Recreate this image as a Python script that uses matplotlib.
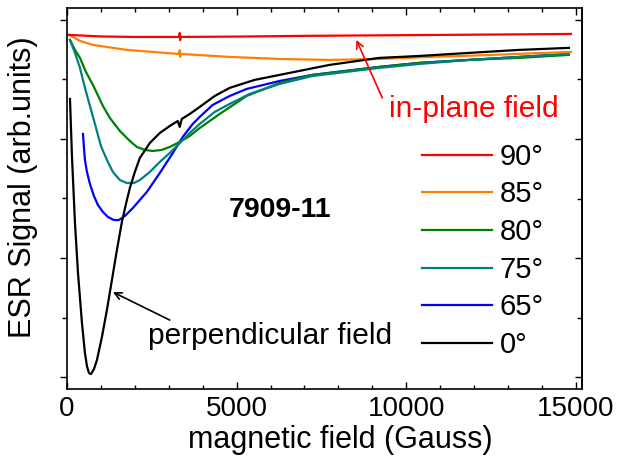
import matplotlib
matplotlib.use("Agg")
import matplotlib.pyplot as plt
from matplotlib.ticker import MultipleLocator

plt.rcParams['font.family'] = ['Liberation Sans', 'DejaVu Sans']

# ---- data (field in Gauss, signal in arbitrary units) ----
field_90 = [60, 1000, 2000, 3300, 3324, 3335, 3350, 5000, 7000, 9000, 11000, 13000, 14850]
sig_90 = [2.874, 2.861, 2.857, 2.857, 2.890, 2.830, 2.857, 2.860, 2.866, 2.870, 2.874, 2.878, 2.882]

field_85 = [59, 382, 765, 1765, 3300, 3324, 3335, 3350, 4794, 6265, 7735, 9206, 10676, 12147, 13618, 14853]
sig_85 = [2.874, 2.824, 2.790, 2.748, 2.714, 2.745, 2.690, 2.714, 2.689, 2.672, 2.664, 2.672, 2.689, 2.702, 2.718, 2.731]

field_80 = [88, 235, 382, 559, 765, 1059, 1265, 1559, 1853, 2059, 2294, 2529, 2794, 3029, 3324,
            3618, 3912, 4500, 5294, 6265, 7235, 9206, 10382, 11853, 13324, 14794]
sig_80 = [2.832, 2.748, 2.681, 2.563, 2.454, 2.277, 2.176, 2.067, 1.983, 1.933, 1.908, 1.899, 1.908,
          1.933, 1.975, 2.025, 2.092, 2.210, 2.361, 2.471, 2.538, 2.605, 2.639, 2.664, 2.681, 2.706]

field_75 = [88, 235, 382, 529, 676, 824, 1000, 1176, 1353, 1559, 1765, 1971, 2147, 2441, 2735, 3029,
            3324, 3618, 3912, 4353, 4794, 5382, 6265, 7235, 9206, 10382, 11853, 13324, 14794]
sig_75 = [2.832, 2.723, 2.597, 2.429, 2.277, 2.126, 1.941, 1.824, 1.723, 1.655, 1.630, 1.630, 1.655,
          1.723, 1.807, 1.882, 1.966, 2.050, 2.126, 2.227, 2.294, 2.378, 2.462, 2.529, 2.597, 2.630,
          2.664, 2.689, 2.714]

field_65 = [471, 500, 529, 588, 676, 794, 912, 1059, 1206, 1382, 1529, 1706, 1941, 2353, 2735, 3118,
            3412, 3706, 3912, 4294, 4794, 5294, 6265, 7235, 9206, 10382, 11853, 13324, 14794]
sig_65 = [2.042, 1.924, 1.824, 1.723, 1.622, 1.521, 1.445, 1.387, 1.345, 1.319, 1.319, 1.353, 1.420,
          1.555, 1.714, 1.882, 2.017, 2.126, 2.185, 2.286, 2.361, 2.420, 2.487, 2.538, 2.605, 2.639,
          2.664, 2.689, 2.714]

field_0 = [88, 147, 235, 324, 441, 529, 588, 647, 706, 794, 882, 1029, 1176, 1324, 1471, 1618, 1765,
           1853, 2000, 2147, 2441, 2735, 3029, 3265, 3324, 3382, 3618, 3912, 4353, 4794, 5529, 6265,
           7735, 9206, 10382, 11853, 13324, 14794]
sig_0 = [2.336, 1.849, 1.294, 0.874, 0.454, 0.202, 0.092, 0.034, 0.025, 0.067, 0.143, 0.336, 0.563,
         0.815, 1.067, 1.303, 1.487, 1.588, 1.723, 1.840, 1.966, 2.050, 2.109, 2.151, 2.101, 2.168,
         2.210, 2.269, 2.361, 2.429, 2.496, 2.538, 2.622, 2.681, 2.697, 2.723, 2.748, 2.765]

labels = ['90°', '85°', '80°', '75°', '65°', '0°']
colors = ['#ff0000', '#ff8000', '#008000', '#008080', '#0000ff', '#000000']
zorders = [2.5, 2.3, 2.1, 2.2, 2.0, 2.4]

fig = plt.figure(figsize=(6.19, 4.69), dpi=100)
ax = fig.add_axes([67/619, 1 - 389/469, 515/619, 381/469])

series = [(field_90, sig_90), (field_85, sig_85), (field_80, sig_80),
          (field_75, sig_75), (field_65, sig_65), (field_0, sig_0)]
handles = []
for (fx, sy), lab, c, z in zip(series, labels, colors, zorders):
    h, = ax.plot(fx, sy, color=c, lw=1.6, label=lab, zorder=z)
    handles.append(h)

ax.set_xlim(0, 15180)
ax.set_ylim(-0.1, 3.1)

ax.xaxis.set_major_locator(MultipleLocator(5000))
ax.xaxis.set_minor_locator(MultipleLocator(1000))
ax.yaxis.set_major_locator(MultipleLocator(1))
ax.yaxis.set_minor_locator(MultipleLocator(0.5))

for s in ax.spines.values():
    s.set_linewidth(1.2)

ax.tick_params(axis='x', which='both', direction='in', top=True, bottom=True,
               labelsize=20, pad=5, width=1.0)
ax.tick_params(axis='x', which='major', length=5)
ax.tick_params(axis='x', which='minor', length=3)
ax.tick_params(axis='y', which='both', direction='out', left=True, right=False,
               labelleft=False, width=1.0)
ax.tick_params(axis='y', which='major', length=5)
ax.tick_params(axis='y', which='minor', length=3.5)

sec = ax.secondary_yaxis('right')
sec.yaxis.set_major_locator(MultipleLocator(1))
sec.yaxis.set_minor_locator(MultipleLocator(0.5))
sec.tick_params(axis='y', which='both', direction='in', labelright=False, width=1.0)
sec.tick_params(axis='y', which='major', length=5)
sec.tick_params(axis='y', which='minor', length=3.5)
sec.spines['right'].set_linewidth(1.2)

ax.set_xlabel('magnetic field (Gauss)', fontsize=22)
ax.set_ylabel('ESR Signal (arb.units)', fontsize=22)
ax.xaxis.set_label_coords(0.530, -0.0945)
ax.yaxis.set_label_coords(-0.0563, 0.529)

leg = ax.legend(handles=handles, loc='upper left', bbox_to_anchor=(0.689, 0.646),
                frameon=False, fontsize=21, borderpad=0, borderaxespad=0,
                handlelength=2.4, handletextpad=0.27, labelspacing=0.33)

ax.text(6265, 1.345, '7909-11', fontsize=20.5, fontweight='bold',
        ha='center', va='baseline')
ax.text(12000, 2.185, 'in-plane field', fontsize=21.5, color='red',
        ha='center', va='baseline')
ax.text(2382, 0.277, 'perpendicular field', fontsize=21.5, color='black',
        ha='left', va='baseline')

ax.annotate('', xy=(8529, 2.832), xytext=(9294, 2.345),
            arrowprops=dict(arrowstyle='->,head_length=0.5,head_width=0.25',
                            color='red', lw=1.2, shrinkA=0, shrinkB=0))
ax.annotate('', xy=(1353, 0.714), xytext=(3029, 0.479),
            arrowprops=dict(arrowstyle='->,head_length=0.5,head_width=0.25',
                            color='black', lw=1.2, shrinkA=0, shrinkB=0))

fig.savefig('out.png', dpi=100)
